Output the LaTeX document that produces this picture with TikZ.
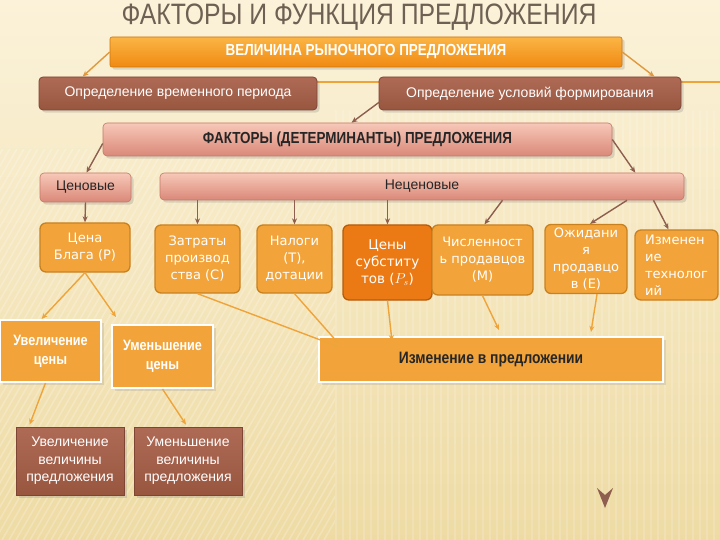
\documentclass[tikz,border=0pt]{standalone}
\usepackage{fontspec}
\setmainfont{Liberation Sans}
\newfontfamily\narrowfont{Liberation Sans}[FakeStretch=0.84]
\newfontfamily\wideface{DejaVu Sans}
\usetikzlibrary{positioning,calc,arrows.meta,shadows}

\definecolor{bgtop}{HTML}{FBF2D9}
\definecolor{bgbot}{HTML}{EEDBA4}
\definecolor{titlegray}{HTML}{6E6052}
\definecolor{barlight}{HTML}{FBB545}
\definecolor{bardark}{HTML}{F08A12}
\definecolor{browntop}{HTML}{AE6A55}
\definecolor{brownbot}{HTML}{98563F}
\definecolor{brownline}{HTML}{7E4535}
\definecolor{pinktop}{HTML}{F7C8B8}
\definecolor{pinkbot}{HTML}{DA8878}
\definecolor{pinkline}{HTML}{C47868}
\definecolor{orfill}{HTML}{F2A43A}
\definecolor{orline}{HTML}{C98120}
\definecolor{deeporange}{HTML}{EC7A14}
\definecolor{deepline}{HTML}{B55C0C}
\definecolor{arrbrown}{HTML}{8E5E4E}
\definecolor{arrorange}{HTML}{EFA43A}

\tikzset{
  mainbar/.style={rectangle, rounded corners=2pt, top color=barlight, bottom color=bardark,
    draw=bardark!85!black, line width=0.6pt, text=white, drop shadow={opacity=0.25},
    font=\narrowfont\bfseries\fontsize{16}{18}\selectfont},
  brownbox/.style={rectangle, rounded corners=4pt, top color=browntop, bottom color=brownbot,
    draw=brownline, line width=0.8pt, text=white, align=center, drop shadow={opacity=0.25},
    font=\fontsize{14}{17.5}\selectfont},
  pinkbox/.style={rectangle, rounded corners=4pt, top color=pinktop, bottom color=pinkbot,
    draw=pinkline, line width=0.6pt, text=black!85, drop shadow={opacity=0.25},
    font=\fontsize{14}{16}\selectfont},
  factbox/.style={rectangle, rounded corners=6pt, fill=orfill, draw=orline, line width=1.3pt,
    text=white, align=center, font=\wideface\fontsize{13}{17}\selectfont},
  framebox/.style={rectangle, fill=orfill, draw=white, line width=2pt, text=white, align=center,
    drop shadow={opacity=0.2}, font=\narrowfont\bfseries\fontsize{15}{19}\selectfont},
  brownarrow/.style={draw=arrbrown, line width=1.4pt, -{Stealth[length=6pt,width=5pt]}},
  orangearrow/.style={draw=arrorange, line width=1.4pt, -{Stealth[length=6pt,width=5pt]}}
}

\begin{document}
\begin{tikzpicture}[x=1pt,y=-1pt]

\useasboundingbox (0,0) rectangle (720,540);

% background
{
\fill[top color=bgtop, bottom color=bgbot] (0,0) rectangle (720,540);
\begin{scope}
\clip (0,150) rectangle (335,540);
\foreach \i in {-320,-313,...,330}
  \draw[white, opacity=0.22, line width=1.6pt] (\i,540)--++(230,-400);
\end{scope}
\begin{scope}
\clip (335,110) rectangle (720,540);
\foreach \i in {336,343,...,720}
  \draw[white, opacity=0.16, line width=1.6pt] (\i,110)--(\i,540);
\end{scope}
\draw[arrorange, line width=1.2pt] (317,82)--(720,82);
}

% title
\node[text=titlegray, font=\narrowfont\fontsize{29.5}{30}\selectfont] (title) at (359,17.5)
{ФАКТОРЫ И ФУНКЦИЯ ПРЕДЛОЖЕНИЯ};

% upper boxes
{
\node[mainbar, minimum width=512pt, minimum height=30pt] (market) at (366,52)
{ВЕЛИЧИНА РЫНОЧНОГО ПРЕДЛОЖЕНИЯ};

\node[brownbox, minimum width=278pt, minimum height=33pt] (period) at (178,93.5)
{Определение временного периода};
\node[brownbox, minimum width=302pt, minimum height=33pt] (cond) at (530,93.5)
{Определение условий формирования};

\node[pinkbox, minimum width=509pt, minimum height=33pt,
  font=\narrowfont\bfseries\fontsize{16}{18}\selectfont] (determ) at (357.5,139.5)
{ФАКТОРЫ (ДЕТЕРМИНАНТЫ) ПРЕДЛОЖЕНИЯ};

\node[pinkbox, minimum width=91pt, minimum height=29pt] (price) at (85.5,187.5) {Ценовые};
\node[pinkbox, minimum width=524pt, minimum height=27pt] (nonprice) at (422,186.5) {Неценовые};
}

% factor boxes
{
\node[factbox, minimum width=90pt, minimum height=49pt] (pgood) at (85,247.5)
{Цена\\Блага (P)};
\node[factbox, minimum width=85pt, minimum height=68pt] (costs) at (197.5,259)
{Затраты\\производ\\ства (C)};
\node[factbox, minimum width=75pt, minimum height=68pt] (taxes) at (294.5,259)
{Налоги\\(T),\\дотации};
\node[factbox, fill=deeporange, draw=deepline, minimum width=89pt, minimum height=75pt,
  font=\wideface\fontsize{13.5}{17}\selectfont] (subst) at (387.5,262.5)
{Цены\\субститу\\тов ($P_s$)};
\node[factbox, minimum width=101pt, minimum height=70pt] (sellers) at (482.5,260)
{Численност\\ь продавцов\\(M)};
\node[factbox, minimum width=82pt, minimum height=68pt] (expect) at (586,259)
{Ожидани\\я\\продавцо\\в (E)};
\node[factbox, align=left, minimum width=83pt, minimum height=70pt] (tech) at (676.5,265)
{Изменен\\ие\\технолог\\ий};
}

% result boxes
{
\node[framebox, minimum width=101pt, minimum height=62pt] (incp) at (50.5,351)
{Увеличение\\цены};
\node[framebox, minimum width=101pt, minimum height=63pt] (decp) at (162.5,356.5)
{Уменьшение\\цены};
\node[framebox, text=black!85, minimum width=344pt, minimum height=45pt,
  font=\narrowfont\bfseries\fontsize{16.5}{19}\selectfont] (change) at (491,359.5)
{Изменение в предложении};

\node[brownbox, rounded corners=0pt, minimum width=108pt, minimum height=68pt] (incq) at (70,461)
{Увеличение\\величины\\предложения};
\node[brownbox, rounded corners=0pt, minimum width=108pt, minimum height=68pt] (decq) at (188,461)
{Уменьшение\\величины\\предложения};
}

% arrows
{
\draw[orangearrow, draw=arrorange!85!arrbrown] (market.west) -- ($(period.north west)+(44,0)$);
\draw[orangearrow, draw=arrorange!85!arrbrown] (market.east) -- ($(cond.north east)+(-27,0)$);

\draw[brownarrow] ($(cond.south west)+(3,-10)$) -- ($(determ.north)+(-6,0)$);
\draw[brownarrow] ($(determ.west)+(0,4)$) -- ($(price.north)+(1,0)$);
\draw[brownarrow] (determ.east) -- ($(nonprice.north east)+(-49,0)$);

\draw[brownarrow] (price.south) -- (pgood.north);
\draw[brownarrow] (costs.north |- nonprice.south) -- (costs.north);
\draw[brownarrow] (taxes.north |- nonprice.south) -- (taxes.north);
\draw[brownarrow] (subst.north |- nonprice.south) -- (subst.north);
\draw[brownarrow] ($(sellers.north |- nonprice.south)+(20,0)$) -- ($(sellers.north)+(2,0)$);
\draw[brownarrow] ($(expect.north |- nonprice.south)+(41,0)$) -- ($(expect.north)+(4,0)$);
\draw[brownarrow] ($(tech.north |- nonprice.south)+(-23,0)$) -- ($(tech.north)+(-8,0)$);

\draw[orangearrow] (pgood.south) -- ($(incp.north)+(-9,0)$);
\draw[orangearrow] (pgood.south) -- ($(decp.north west)+(5,-7)$);

\draw[orangearrow] (costs.south) -- ($(change.north west)+(21,11)$);
\draw[orangearrow] (taxes.south) -- ($(change.north west)+(21,8)$);
\draw[orangearrow] (subst.south) -- ($(change.north west)+(74,5)$);
\draw[orangearrow] (sellers.south) -- ($(change.north west)+(181,-6)$);
\draw[orangearrow] ($(expect.south)+(11,0)$) -- ($(change.north west)+(273,-4)$);

\draw[orangearrow] ($(incp.south)+(-5,0)$) -- ($(incq.north west)+(14,-2)$);
\draw[orangearrow] (decp.south) -- ($(decq.north)+(-2,-2)$);
}

% marker
\fill[arrbrown] (597,488) -- (605,495) -- (613,488) -- (605,508) -- cycle;

\end{tikzpicture}
\end{document}
